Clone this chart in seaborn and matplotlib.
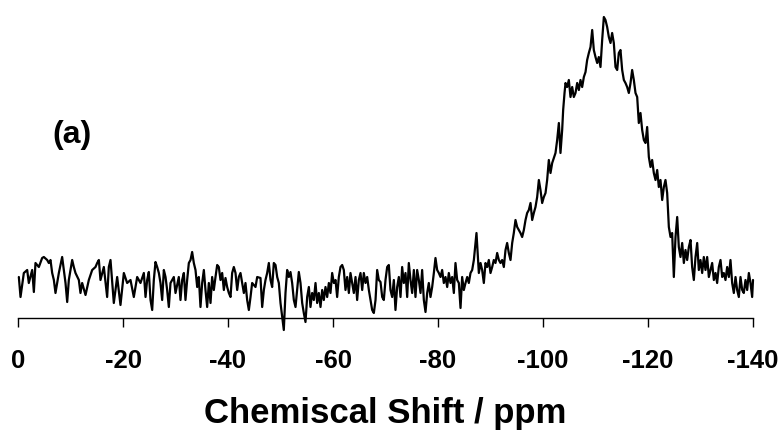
import numpy as np
import pandas as pd
import matplotlib
matplotlib.use("Agg")
import matplotlib.pyplot as plt
import seaborn as sns

# ---- data (chemical shift in ppm, intensity in arbitrary units) ----
shift_a = [-0.16, -0.48, -1.11, -1.75, -2.06, -2.70, -3.02, -3.33, -3.97, -4.60, -4.92, -5.56,
           -5.87, -6.19, -6.51, -6.83, -7.14, -7.78, -8.41, -8.73, -9.05, -9.37, -9.68, -10.32,
           -10.63, -10.95, -11.59, -11.90, -12.22, -12.86, -13.49, -14.13, -14.76, -15.08, -15.40,
           -15.71, -16.35, -16.98, -17.30, -17.62, -18.25, -18.89, -19.52, -20.16, -20.79, -21.43,
           -22.06, -22.70]
int_a = [41, 21, 45, 48, 35, 48, 26, 55, 51, 60, 61, 58,
         55, 58, 45, 38, 25, 45, 61, 48, 35, 16, 38, 58,
         51, 45, 38, 25, 35, 23, 38, 48, 51, 55, 58,
         38, 51, 21, 51, 58, 15, 41, 13, 45, 35, 38,
         21, 41]

shift_b = [-23.33, -23.97, -24.29, -24.60, -24.92, -25.24, -25.56, -25.87, -26.19, -26.51, -26.83,
           -27.14, -27.46, -27.78, -28.10, -28.41, -28.73, -29.05, -29.68, -30.00, -30.63, -30.95,
           -31.27, -31.59, -31.90, -32.22, -32.54, -32.86, -33.17, -33.49, -33.81, -34.13, -34.44,
           -34.76, -35.08, -35.40, -35.71, -36.03, -36.35, -36.67, -36.98, -37.30, -37.62, -37.94,
           -38.25, -38.57, -38.89, -39.21, -39.52, -39.84, -40.16, -40.48, -40.79, -41.11, -41.43,
           -41.75, -42.06, -42.38, -42.70, -43.02, -43.33, -43.65, -43.97, -44.29, -44.60, -45.24,
           -45.56]
int_b = [35, 45, 21, 38, 46, 18, 8, 38, 56, 51, 45,
         35, 18, 48, 41, 28, 11, 35, 41, 25, 41, 18,
         38, 45, 18, 38, 55, 58, 66, 55, 48, 31, 41,
         11, 35, 48, 28, 11, 35, 15, 41, 28, 41, 53,
         51, 38, 45, 28, 40, 31, 25, 21, 45, 51, 45,
         28, 41, 45, 35, 25, 35, 18, 8, 21, 35, 31,
         41]

shift_c = [-46.19, -46.51, -46.83, -47.14, -47.46, -47.78, -48.10, -48.41, -48.73, -49.05, -49.37,
           -49.68, -50.00, -50.32, -50.63, -50.95, -51.27, -51.59, -51.90, -52.22, -52.54, -52.86,
           -53.17, -53.49, -53.81, -54.13, -54.44, -54.76, -55.08, -55.40, -55.71, -56.03, -56.35,
           -56.67, -56.98, -57.30, -57.62, -57.94, -58.25, -58.57, -58.89, -59.21, -59.52, -59.84,
           -60.16, -60.48, -60.79, -61.11, -61.43, -61.75, -62.06, -62.38, -62.70, -63.02, -63.33,
           -63.65, -63.97, -64.29, -64.60, -64.92, -65.24, -65.56, -65.87, -66.19, -66.51, -66.83,
           -67.14, -67.46, -67.78, -68.10, -68.41, -68.73]
int_c = [40, 11, 28, 38, 45, 55, 38, 31, 55, 53, 41,
         35, 15, 1, -12, 25, 48, 41, 46, 35, 18, 11,
         28, 46, 35, 15, 5, -4, 21, 31, 11, 25, 18,
         35, 15, 25, 11, 28, 18, 31, 21, 35, 25, 45,
         35, 38, 21, 41, 51, 53, 48, 28, 41, 25, 45,
         35, 25, 41, 18, 38, 45, 28, 45, 35, 41, 28,
         18, 8, 5, 18, 48, 38]

shift_d = [-69.05, -69.37, -69.68, -70.00, -70.32, -70.63, -70.95, -71.27, -71.59, -71.90, -72.22,
           -72.54, -72.86, -73.17, -73.49, -73.81, -74.13, -74.44, -74.76, -75.08, -75.40, -75.71,
           -76.03, -76.35, -76.67, -76.98, -77.30, -77.62, -77.94, -78.25, -78.57, -78.89, -79.21,
           -79.52, -79.84, -80.16, -80.48, -80.79, -81.11, -81.43, -81.75, -82.06, -82.38, -82.70,
           -83.02, -83.33, -83.65, -83.97, -84.29, -84.60, -84.92, -85.24, -85.56, -85.87, -86.19,
           -86.51, -86.83, -87.33, -87.59, -87.78, -88.10, -88.41, -88.73, -89.05, -89.37, -89.68,
           -90.00, -90.32, -90.63, -90.95, -91.27, -91.59, -91.90]
int_d = [36, 21, 18, 38, 51, 53, 28, 21, 38, 8, 31,
         41, 21, 51, 35, 45, 21, 55, 38, 25, 48, 21,
         48, 38, 25, 48, 18, 6, 25, 35, 21, 31, 45,
         60, 48, 45, 41, 48, 35, 41, 31, 45, 35, 41,
         25, 55, 38, 35, 10, 41, 28, 35, 41, 35, 45,
         48, 58, 85, 61, 45, 55, 48, 35, 55, 51, 58,
         45, 51, 58, 55, 65, 58, 55]

shift_e = [-92.22, -92.54, -92.86, -93.17, -93.49, -93.81, -94.13, -94.44, -94.76, -95.08, -95.40,
           -95.71, -96.03, -96.35, -96.67, -96.98, -97.30, -97.62, -97.94, -98.25, -98.57, -98.89,
           -99.21, -99.52, -99.84, -100.16, -100.48, -100.79, -101.11, -101.43, -101.75, -102.06,
           -102.38, -102.70, -103.02, -103.33, -103.65]
int_e = [58, 51, 68, 75, 65, 58, 75, 85, 98, 91, 88,
         85, 81, 88, 98, 105, 108, 115, 98, 105, 111, 121,
         138, 128, 115, 121, 125, 138, 158, 145, 155, 160,
         165, 178, 195, 165, 188]

shift_f = [-103.84, -104.10, -104.29, -104.60, -104.92, -105.24, -105.56, -105.87, -106.19, -106.51,
           -106.83, -107.14, -107.46, -107.78, -108.10, -108.41, -108.73, -109.05, -109.37, -109.68,
           -110.00, -110.32, -110.63, -110.95, -111.27, -111.59, -111.90, -112.22, -112.54, -112.86,
           -113.17, -113.49, -113.81, -114.13, -114.44, -114.76, -115.08, -115.40, -115.71, -116.03,
           -116.35, -116.67, -116.98, -117.30, -117.62, -117.94, -118.25, -118.57, -118.89, -119.21,
           -119.52, -119.84, -120.16, -120.48, -120.79, -121.11, -121.43, -121.75, -122.06, -122.38,
           -122.70, -123.02, -123.33, -123.65, -123.97, -124.29]
int_f = [208, 225, 235, 231, 238, 221, 231, 221, 225, 235,
         228, 238, 231, 241, 246, 258, 265, 271, 288, 268,
         261, 255, 261, 251, 278, 301, 298, 291, 281, 275,
         285, 275, 251, 248, 265, 268, 248, 238, 235, 231,
         225, 235, 248, 238, 225, 221, 195, 205, 188, 178,
         175, 191, 161, 151, 158, 145, 138, 148, 131, 138,
         118, 131, 138, 125, 91, 81]

shift_g = [-124.60, -124.92, -125.24, -125.56, -125.87, -126.19, -126.51, -126.83, -127.14, -127.46,
           -127.78, -128.10, -128.41, -128.73, -129.05, -129.37, -129.68, -130.00, -130.32, -130.63,
           -130.95, -131.27, -131.59, -131.90, -132.22, -132.54, -132.86, -133.17, -133.49, -133.81,
           -134.13, -134.44, -134.76, -135.08, -135.40, -135.71, -136.03, -136.35, -136.67, -136.98,
           -137.30, -137.62, -137.94, -138.25, -138.57, -138.89, -139.21, -139.52, -139.84, -140.00]
int_g = [85, 41, 81, 101, 71, 61, 75, 55, 68, 58,
         71, 78, 51, 38, 61, 75, 48, 58, 45, 61,
         48, 61, 41, 48, 55, 38, 45, 35, 51, 58,
         41, 45, 38, 51, 41, 58, 35, 25, 41, 28,
         21, 41, 28, 25, 38, 28, 45, 35, 21, 38]

tick_values = [0, -20, -40, -60, -80, -100, -120, -140]
x_label = "Chemiscal Shift / ppm"
panel_label = "(a)"

df = pd.DataFrame({
    "shift": shift_a + shift_b + shift_c + shift_d + shift_e + shift_f + shift_g,
    "intensity": int_a + int_b + int_c + int_d + int_e + int_f + int_g,
})

sns.set_style("white")
plt.rcParams["font.family"] = ["Liberation Sans", "DejaVu Sans"]
plt.rcParams["text.color"] = "black"
plt.rcParams["axes.labelcolor"] = "black"
plt.rcParams["xtick.color"] = "black"

W, H = 784, 436
fig = plt.figure(figsize=(W / 100, H / 100), dpi=100)
ax = fig.add_axes([18 / W, 118 / H, (753 - 18) / W, 305 / H])

sns.lineplot(data=df, x="shift", y="intensity", sort=False, estimator=None,
             color="black", linewidth=1.6, ax=ax)
for ln in ax.lines:
    ln.set_clip_on(False)
    ln.set_solid_joinstyle("round")

ax.set_xlim(0, -140)
ax.set_ylim(0, 305)
ax.set_xticks(tick_values)
ax.set_xticklabels([str(t) for t in tick_values], fontsize=18.5, fontweight="bold",
                   color="black")
ax.tick_params(axis="x", direction="out", length=6.5, width=1.0, pad=16,
               bottom=True, color="black", labelcolor="black")
ax.set_yticks([])
for s in ["left", "top", "right"]:
    ax.spines[s].set_visible(False)
ax.spines["bottom"].set_color("black")
ax.spines["bottom"].set_linewidth(1.0)
ax.set_xlabel(x_label, fontsize=25, fontweight="bold", labelpad=17, color="black")
ax.set_ylabel("")

fig.text(71.7 / W, 1 - 135 / H, panel_label, fontsize=23, fontweight="bold",
         ha="center", va="center", color="black")

fig.savefig("out.png", dpi=100)
